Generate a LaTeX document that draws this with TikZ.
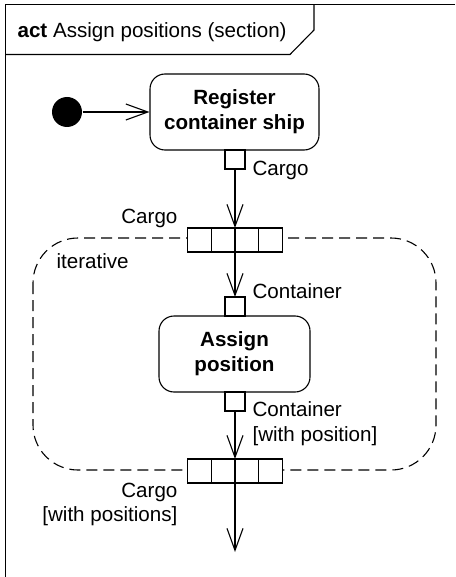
\documentclass[tikz,border=0pt]{standalone}
\usepackage{fontspec}
\setmainfont{Liberation Sans}
\usetikzlibrary{arrows.meta,positioning}
\begin{document}
\begin{tikzpicture}[x=1pt,y=-1pt,
  line width=1.1pt,
  lbl/.style={font=\fontsize{20.6}{24}\selectfont, inner sep=0pt},
  action/.style={draw, rounded corners=15pt, font=\fontsize{20.6}{25}\selectfont\bfseries, align=center, inner sep=0pt},
  pin/.style={draw, minimum width=20pt, minimum height=19pt, inner sep=0pt, outer sep=0pt, fill=white},
  cell/.style={draw, minimum width=23.75pt, minimum height=24pt, inner sep=0pt, outer sep=0pt, fill=white},
  flow/.style={-{Straight Barb[length=22pt,width=16pt]}},
  region/.style={draw, dashed, dash pattern=on 11pt off 6pt, rounded corners=45pt}
]
\useasboundingbox (0,0) rectangle (455,577);
% frame
\draw (455,4.5) -- (5.5,4.5) -- (5.5,577);
\draw (5.5,54.5) -- (290,54.5) -- (314,30) -- (314,4.5);
\node[anchor=base west, inner sep=0pt, font=\fontsize{20.6}{24}\selectfont] (title) at (17,38) {\textbf{act} Assign positions (section)};

% expansion region
\draw[region] (33,238) rectangle (436,470);
\node[lbl, anchor=base west] (iter) at (56,268) {iterative};

% initial node
\node[circle, fill=black, minimum size=30pt, inner sep=0pt] (init) at (67,112) {};

% actions
\node[action, minimum width=169pt, minimum height=76pt] (reg) at (234.5,112) {Register\\container ship};
\node[action, minimum width=151pt, minimum height=76pt] (asg) at (234.5,354) {Assign\\position};

% pins
\node[pin, anchor=north] (p1) at (235,150) {};
\node[pin, anchor=south] (p2) at (235,316) {};
\node[pin, anchor=north] (p3) at (235,392) {};

% expansion nodes
\node[cell, anchor=west] (e1a) at (187.5,240) {};
\node[cell, right=0pt of e1a] (e1b) {};
\node[cell, right=0pt of e1b] (e1c) {};
\node[cell, right=0pt of e1c] (e1d) {};
\node[cell, anchor=west] (e2a) at (187.5,471) {};
\node[cell, right=0pt of e2a] (e2b) {};
\node[cell, right=0pt of e2b] (e2c) {};
\node[cell, right=0pt of e2c] (e2d) {};
\coordinate (e1top) at (e1b.north east);
\coordinate (e1bot) at (e1b.south east);
\coordinate (e2top) at (e2b.north east);
\coordinate (e2bot) at (e2b.south east);
\coordinate (end) at (235,552);

% flows
\draw[flow] (init) -- (reg);
\draw[flow] (p1.south) -- (e1top);
\draw[flow] (e1bot) -- (p2.north);
\draw[flow] (p3.south) -- (e2top);
\draw[flow] (e2bot) -- (end);
\draw (e1top) -- (e1bot);
\draw (e2top) -- (e2bot);

% labels
\node[lbl, anchor=base west] (l1) at (252,176) {Cargo};
\node[lbl, anchor=base east] (l2) at (178,223) {Cargo};
\node[lbl, anchor=base west] (l3) at (252,298) {Container};
\node[lbl, anchor=base west] (l4) at (252,416) {Container};
\node[lbl, anchor=base west] (l5) at (252,441) {[with position]};
\node[lbl, anchor=base east] (l6) at (178,497) {Cargo};
\node[lbl, anchor=base east] (l7) at (178,521) {[with positions]};
\end{tikzpicture}
\end{document}
